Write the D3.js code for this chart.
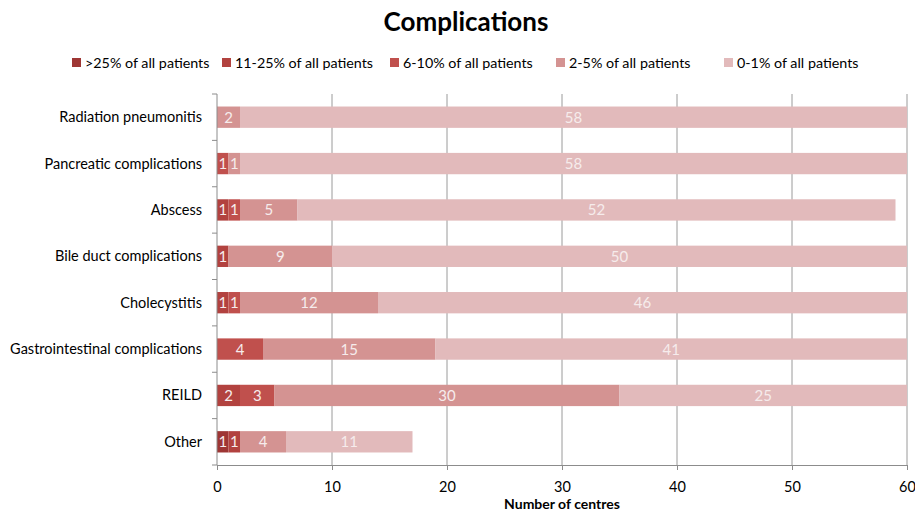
<!DOCTYPE html>
<html>
<head>
<meta charset="utf-8">
<script src="https://cdn.jsdelivr.net/npm/d3@7"></script>
<style>
  body { margin: 0; background: #fff; }
  svg { display: block; font-family: Lato, "Open Sans", sans-serif; }
</style>
</head>
<body>
<svg id="chart" width="915" height="513"></svg>
<script>
// Complications reported by number of centres, split by incidence band
const categories = [
  "Radiation pneumonitis",
  "Pancreatic complications",
  "Abscess",
  "Bile duct complications",
  "Cholecystitis",
  "Gastrointestinal complications",
  "REILD",
  "Other"
];
const seriesNames = [">25% of all patients", "11-25% of all patients", "6-10% of all patients", "2-5% of all patients", "0-1% of all patients"];
const over25   = [0, 0, 0, 0, 0, 0, 0, 1];
const p11to25  = [0, 0, 1, 1, 1, 0, 2, 1];
const p6to10   = [0, 1, 1, 0, 1, 4, 3, 0];
const p2to5    = [2, 1, 5, 9, 12, 15, 30, 4];
const p0to1    = [58, 58, 52, 50, 46, 41, 25, 11];
const xTicks   = [0, 10, 20, 30, 40, 50, 60];
const colors   = ["#9e3634", "#b2423f", "#c0504d", "#d49392", "#e2babb"];

const seriesValues = [over25, p11to25, p6to10, p2to5, p0to1];
const rows = categories.map((c, i) => {
  const r = { category: c };
  seriesNames.forEach((s, k) => r[s] = seriesValues[k][i]);
  return r;
});

const svg = d3.select("#chart");
const margin = { left: 217, right: 8, top: 94, bottom: 48 };
const W = 915, H = 513;

const x = d3.scaleLinear().domain([0, 60]).range([margin.left, W - margin.right]);
const y = d3.scaleBand().domain(categories).range([margin.top, H - margin.bottom]).paddingInner(0.54).paddingOuter(0.27);

// Title
svg.append("text")
  .attr("x", 466).attr("y", 31)
  .attr("text-anchor", "middle")
  .attr("font-size", 26).attr("font-weight", "bold")
  .attr("fill", "#000")
  .text("Complications");

// Legend
const legendX = [72, 222, 390, 556, 724];
const legend = svg.append("g");
seriesNames.forEach((s, k) => {
  const g = legend.append("g").attr("transform", `translate(${legendX[k]},63)`);
  g.append("rect").attr("x", 0).attr("y", -5).attr("width", 9).attr("height", 9).attr("fill", colors[k]);
  g.append("text").attr("x", 13).attr("y", 5).attr("font-size", 14.3).attr("fill", "#000").text(s);
});

// Vertical gridlines
svg.append("g")
  .selectAll("line")
  .data(xTicks.filter(t => t > 0))
  .join("line")
  .attr("x1", d => x(d)).attr("x2", d => x(d))
  .attr("y1", margin.top).attr("y2", H - margin.bottom)
  .attr("stroke", "#9a9a9a").attr("stroke-width", 1);

// Stacked bars
const stack = d3.stack().keys(seriesNames);
const layers = stack(rows);
const barLayer = svg.append("g");
layers.forEach((layer, k) => {
  const g = barLayer.append("g").attr("fill", colors[k]);
  g.selectAll("rect")
    .data(layer.filter(d => d[1] - d[0] > 0))
    .join("rect")
    .attr("x", d => x(d[0]))
    .attr("y", d => y(d.data.category))
    .attr("width", d => x(d[1]) - x(d[0]))
    .attr("height", y.bandwidth());
  g.selectAll("text")
    .data(layer.filter(d => d[1] - d[0] > 0))
    .join("text")
    .attr("x", d => (x(d[0]) + x(d[1])) / 2)
    .attr("y", d => y(d.data.category) + y.bandwidth() / 2 + 5.5)
    .attr("text-anchor", "middle")
    .attr("font-size", 15)
    .attr("fill", "#f6ecec")
    .text(d => d[1] - d[0]);
});

// X axis
const xAxis = svg.append("g")
  .attr("transform", `translate(0,${H - margin.bottom})`)
  .call(d3.axisBottom(x).tickValues(xTicks).tickSize(5).tickPadding(12).tickFormat(d3.format("d")));
xAxis.select(".domain").attr("stroke", "#8c8c8c");
xAxis.selectAll(".tick line").attr("stroke", "#8c8c8c");
xAxis.selectAll(".tick text").attr("font-size", 14.5).attr("fill", "#000").attr("font-family", "Lato, 'Open Sans', sans-serif");

// Y axis with ticks between categories
const step = y.step();
const yAxisG = svg.append("g");
yAxisG.append("line")
  .attr("x1", margin.left).attr("x2", margin.left)
  .attr("y1", margin.top).attr("y2", H - margin.bottom)
  .attr("stroke", "#8c8c8c");
yAxisG.selectAll("line.tk")
  .data(d3.range(categories.length + 1))
  .join("line")
  .attr("class", "tk")
  .attr("x1", margin.left - 5).attr("x2", margin.left)
  .attr("y1", i => margin.top + i * step).attr("y2", i => margin.top + i * step)
  .attr("stroke", "#8c8c8c");
yAxisG.selectAll("text")
  .data(categories)
  .join("text")
  .attr("x", margin.left - 15)
  .attr("y", d => y(d) + y.bandwidth() / 2 + 5)
  .attr("text-anchor", "end")
  .attr("font-size", 14.5)
  .attr("fill", "#000")
  .text(d => d);

// X axis title
svg.append("text")
  .attr("x", x(30)).attr("y", 509)
  .attr("text-anchor", "middle")
  .attr("font-size", 14).attr("font-weight", "bold")
  .attr("fill", "#000")
  .text("Number of centres");
</script>
</body>
</html>
